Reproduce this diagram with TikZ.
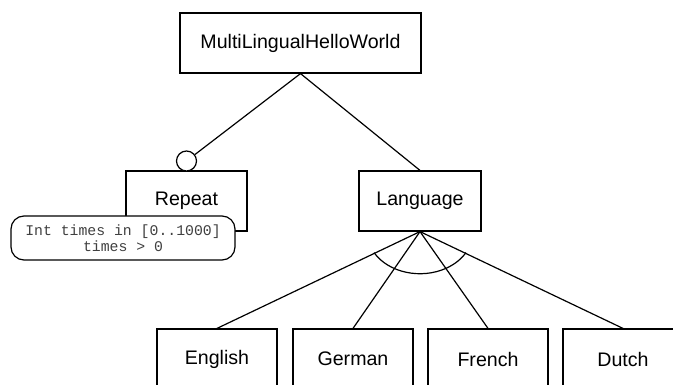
\documentclass[tikz,border=0pt]{standalone}
\usepackage{fontspec}
\setmainfont{Liberation Sans}
\newfontfamily\notefont{Liberation Mono}
\begin{document}
\begin{tikzpicture}[x=1pt,y=-1pt,
  feat/.style={draw, line width=1.2pt, fill=white, inner sep=0pt, minimum height=60pt,
    font=\fontsize{19.6}{23}\selectfont},
  link/.style={line width=1.2pt},
  optmark/.style={draw, circle, line width=1.2pt, fill=white, minimum size=20pt, inner sep=0pt},
  notebox/.style={draw, line width=1.2pt, fill=white, rounded corners=13pt, inner sep=0pt,
    minimum width=224pt, minimum height=44pt, align=center, text=black!75,
    font=\notefont\fontsize{14.8}{15.7}\selectfont}]
\useasboundingbox (0,0) rectangle (673,385);
\clip (0,0) rectangle (673,385);
\node[feat, minimum width=241pt] (root) at (300.5,43) {MultiLingualHelloWorld};
\node[feat, minimum width=121pt] (rep) at (186.5,201) {Repeat};
\node[feat, minimum width=122pt] (lang) at (420,201) {Language};
\node[optmark] (opt) at (186.5,161) {};
\node[notebox] (note) at (123,238) {Int times in [0..1000]\\times > 0};
\node[feat, minimum width=120pt] (en) at (217,359) {English};
\node[feat, minimum width=120pt] (de) at (353,359) {German};
\node[feat, minimum width=120pt] (fr) at (488,359) {French};
\node[feat, minimum width=120pt] (nl) at (623,359) {Dutch};
\draw[link] (root.south) -- (opt);
\draw[link] (root.south) -- (lang.north);
\draw[link] (lang.south) -- (en.north);
\draw[link] (lang.south) -- (de.north);
\draw[link] (lang.south) -- (fr.north);
\draw[link] (lang.south) -- (nl.north);
\draw[link] ([shift={(-46,21)}]lang.south) arc[start angle=150.2, end angle=29.8, x radius=53, y radius=42];
\end{tikzpicture}
\end{document}
